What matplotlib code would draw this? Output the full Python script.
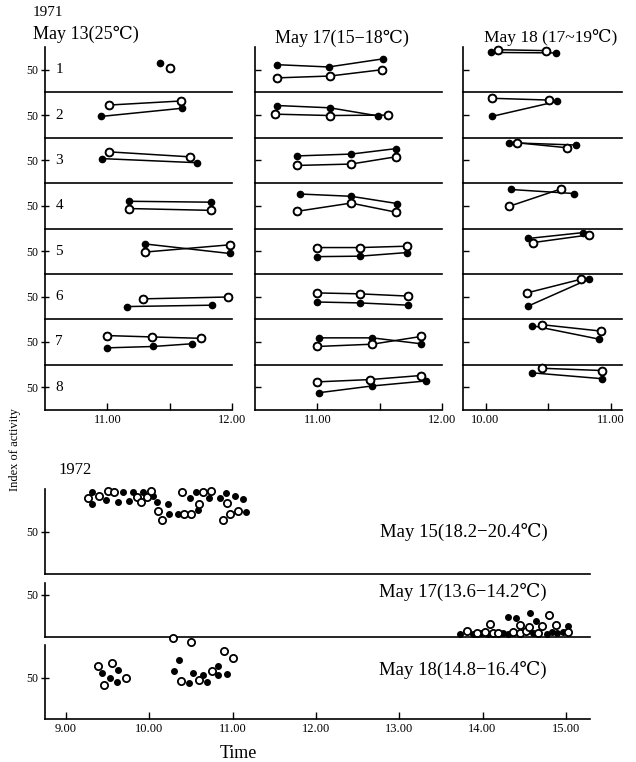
import matplotlib
matplotlib.use("Agg")
import matplotlib.pyplot as plt

plt.rcParams['font.family'] = ['Liberation Serif', 'DejaVu Serif']

W, H = 636, 762

# ---- 1971: index of activity, rows 1-8 (filled and open groups) ----
may13_filled_t = [[11.42], [10.95, 11.60], [10.96, 11.72], [11.17, 11.83], [11.30, 11.98],
                  [11.16, 11.84], [11.00, 11.37, 11.68], []]
may13_filled_v = [[65], [47, 65], [54, 45], [60, 58], [66, 45], [28, 31], [37, 40, 46], []]
may13_open_t = [[11.50], [11.01, 11.59], [11.01, 11.66], [11.17, 11.83], [11.30, 11.98],
                [11.29, 11.97], [11.00, 11.36, 11.75], []]
may13_open_v = [[53], [72, 81], [69, 58], [44, 40], [48, 64], [45, 49], [64, 61, 58], []]

may17_filled_t = [[10.68, 11.09, 11.53], [10.68, 11.10, 11.49], [10.84, 11.27, 11.63],
                  [10.86, 11.27, 11.64], [11.00, 11.34, 11.72], [11.00, 11.34, 11.73],
                  [11.01, 11.44, 11.83], [11.01, 11.44, 11.87]]
may17_filled_v = [[61, 56, 74], [71, 66, 48], [60, 64, 76], [76, 71, 55], [38, 39, 47],
                  [38, 36, 31], [59, 59, 46], [38, 53, 64]]
may17_open_t = [[10.68, 11.10, 11.52], [10.66, 11.10, 11.57], [10.84, 11.27, 11.63],
                [10.84, 11.27, 11.63], [11.00, 11.34, 11.72], [11.00, 11.34, 11.73],
                [11.00, 11.44, 11.83], [11.00, 11.42, 11.83]]
may17_open_v = [[32, 36, 50], [52, 49, 50], [39, 42, 58], [38, 56, 36], [58, 58, 61],
                [58, 56, 51], [40, 45, 62], [62, 67, 76]]

may18_filled_t = [[10.04, 10.56], [10.05, 10.57], [10.19, 10.72], [10.20, 10.71], [10.34, 10.78],
                  [10.34, 10.83], [10.37, 10.91], [10.37, 10.93]]
may18_filled_v = [[88, 87], [47, 80], [89, 84], [86, 77], [78, 91], [29, 89], [86, 56], [82, 69]]
may18_open_t = [[10.10, 10.48], [10.05, 10.51], [10.25, 10.65], [10.19, 10.60], [10.38, 10.83],
                [10.33, 10.76], [10.45, 10.92], [10.45, 10.93]]
may18_open_v = [[94, 92], [87, 83], [89, 78], [49, 87], [69, 86], [58, 88], [88, 74], [92, 87]]

# ---- 1972 ----
d15_filled_t = [9.31, 9.31, 9.48, 9.62, 9.69, 9.76, 9.80, 9.92, 10.05, 10.09, 10.23, 10.24,
                10.35, 10.58, 10.49, 10.56, 10.72, 10.85, 10.92, 11.03, 11.12, 11.16]
d15_filled_v = [97, 82, 87, 85, 96, 86, 97, 96, 92, 85, 82, 71, 71, 75, 90, 97, 90, 90, 95, 92, 88, 73]
d15_open_t = [9.27, 9.40, 9.50, 9.58, 9.85, 9.90, 9.97, 10.02, 10.11, 10.15, 10.42, 10.50,
              10.60, 10.39, 10.64, 10.74, 10.93, 10.88, 10.97, 11.06]
d15_open_v = [89, 92, 98, 96, 91, 85, 91, 98, 74, 63, 71, 71, 82, 97, 97, 98, 84, 63, 71, 74]

d17_filled_t = [13.73, 13.88, 13.98, 14.07, 14.25, 14.30, 14.61, 14.77, 14.83, 14.89, 14.96,
                14.31, 14.40, 14.57, 14.64, 15.03]
d17_filled_v = [4, 4, 5, 4, 5, 4, 5, 4, 6, 5, 6, 24, 22, 29, 19, 13]
d17_open_t = [13.81, 13.93, 14.03, 14.13, 14.19, 14.37, 14.45, 14.52, 14.67, 15.02,
              14.09, 14.45, 14.56, 14.71, 14.80, 14.88]
d17_open_v = [7, 5, 6, 5, 5, 6, 5, 7, 5, 6, 16, 14, 12, 13, 26, 14]

d18_filled_t = [9.43, 9.53, 9.63, 9.61, 10.36, 10.30, 10.48, 10.52, 10.64, 10.69, 10.82, 10.83, 10.93]
d18_filled_v = [56, 50, 59, 45, 72, 58, 44, 56, 54, 45, 65, 53, 55]
d18_open_t = [9.39, 9.46, 9.55, 9.72, 10.29, 10.50, 10.38, 10.60, 10.75, 10.90, 11.00]
d18_open_v = [65, 41, 68, 50, 98, 94, 46, 47, 58, 83, 74]

fig = plt.figure(figsize=(W / 100, H / 100), dpi=100)


def px_axes(x0, y0, x1, y1):
    return fig.add_axes([x0 / W, 1 - y1 / H, (x1 - x0) / W, (y1 - y0) / H])


def ftext(x, y, s, **kw):
    fig.text(x / W, 1 - y / H, s, **kw)


def style(ax, lw=1.2):
    ax.spines['top'].set_visible(False)
    ax.spines['right'].set_visible(False)
    ax.spines['left'].set_linewidth(lw)
    ax.spines['bottom'].set_linewidth(lw)
    ax.patch.set_visible(False)


filled_kw = dict(color='k', lw=1.1, marker='o', ms=4.5, mfc='k', mec='k', clip_on=False)
open_kw = dict(color='k', lw=1.1, marker='o', ms=5.5, mfc='white', mec='k', mew=1.3, clip_on=False)

columns = [
    (45, 232, (10.5, 12.0), [11, 12], [11.5], may13_filled_t, may13_filled_v, may13_open_t, may13_open_v, True),
    (255, 442, (10.5, 12.0), [11, 12], [11.5], may17_filled_t, may17_filled_v, may17_open_t, may17_open_v, False),
    (463, 622, (9.82, 11.09), [10, 11], [10.5], may18_filled_t, may18_filled_v, may18_open_t, may18_open_v, False),
]

top, bottom = 47, 410
row_h = (bottom - top) / 8
for x0, x1, xl, xt, xm, ft, fv, ot, ov, first in columns:
    for r in range(8):
        y0 = top + r * row_h
        ax = px_axes(x0, y0, x1, y0 + row_h)
        style(ax)
        ax.set_xlim(*xl)
        ax.set_ylim(0, 100)
        ax.set_yticks([50])
        if first:
            ax.set_yticklabels(['50'], fontsize=8.5)
            ax.tick_params(axis='y', direction='inout', length=6, width=1, pad=2)
            ax.text(0.055, 0.5, str(r + 1), transform=ax.transAxes, fontsize=11, va='center', ha='left')
        else:
            ax.set_yticklabels([])
            ax.tick_params(axis='y', direction='in', length=4, width=1)
        if r == 7:
            ax.set_xticks(xt)
            ax.set_xticklabels(['%.2f' % t for t in xt], fontsize=9)
            ax.set_xticks(xm, minor=True)
            ax.tick_params(axis='x', which='both', direction='in', length=5, width=1, pad=3)
        else:
            ax.set_xticks([])
        ax.plot(ot[r], ov[r], **open_kw)
        ax.plot(ft[r], fv[r], **filled_kw)
        # open circles again on top so the lines do not cross them
        ax.plot(ot[r], ov[r], ls='none', marker='o', ms=5.5, mfc='white', mec='k', mew=1.3, clip_on=False)

# 1972 panels
xl72 = (8.75, 15.29)
panels72 = [
    (489, 574, 100, d15_filled_t, d15_filled_v, d15_open_t, d15_open_v),
    (583, 637, 64, d17_filled_t, d17_filled_v, d17_open_t, d17_open_v),
    (645, 719, 90, d18_filled_t, d18_filled_v, d18_open_t, d18_open_v),
]
for i, (y0, y1, ymax, ft, fv, ot, ov) in enumerate(panels72):
    ax = px_axes(45, y0, 590, y1)
    style(ax)
    ax.set_xlim(*xl72)
    ax.set_ylim(0, ymax)
    ax.set_yticks([50])
    ax.set_yticklabels(['50'], fontsize=8.5)
    ax.tick_params(axis='y', direction='inout', length=6, width=1, pad=2)
    if i == 2:
        hours = [9, 10, 11, 12, 13, 14, 15]
        ax.set_xticks(hours)
        ax.set_xticklabels(['%.2f' % h for h in hours], fontsize=9)
        ax.tick_params(axis='x', direction='in', length=5, width=1, pad=3)
    else:
        ax.set_xticks([])
    ax.plot(ft, fv, ls='none', marker='o', ms=4, mfc='k', mec='k', clip_on=False)
    ax.plot(ot, ov, ls='none', marker='o', ms=5.2, mfc='white', mec='k', mew=1.3, clip_on=False)

# texts
ftext(33, 13, '1971', fontsize=11, va='center')
ftext(33, 34, 'May 13(25℃)', fontsize=13, va='center')
ftext(275, 38, 'May 17(15−18℃)', fontsize=13, va='center')
ftext(484, 38, 'May 18 (17~19℃)', fontsize=12.5, va='center')
ftext(58, 470, '1972', fontsize=12, va='center')
ftext(380, 532, 'May 15(18.2−20.4℃)', fontsize=13.5, va='center')
ftext(379, 592, 'May 17(13.6−14.2℃)', fontsize=13.5, va='center')
ftext(379, 670, 'May 18(14.8−16.4℃)', fontsize=13.5, va='center')
ftext(238, 753, 'Time', fontsize=13, va='center', ha='center')
ftext(15, 450, 'Index of activity', fontsize=9, rotation=90, va='center', ha='center')

fig.savefig('out.png', dpi=100, facecolor='white')
